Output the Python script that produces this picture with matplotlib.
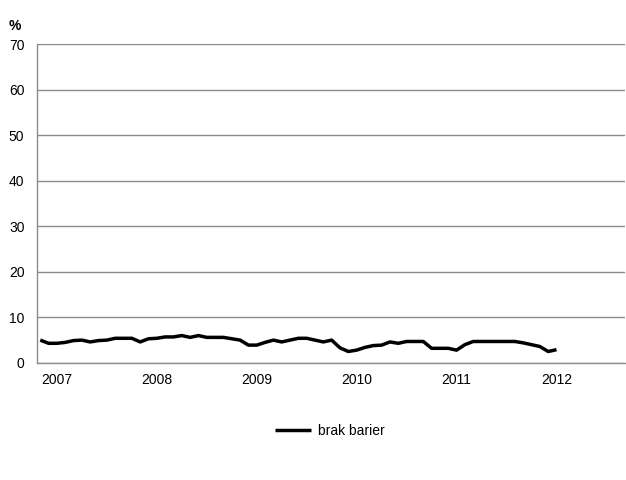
import matplotlib
matplotlib.use('Agg')
import matplotlib.pyplot as plt
import numpy as np

# monthly values, Nov 2006 - Jan 2012
brak_barier = [5.0, 4.3, 4.3, 4.5, 4.9, 5.0, 4.6, 4.9, 5.0, 5.4, 5.4, 5.4,
               4.6, 5.3, 5.4, 5.7, 5.7, 6.0, 5.6, 6.0, 5.6, 5.6, 5.6, 5.3,
               5.0, 3.9, 3.9, 4.5, 5.0, 4.6, 5.0, 5.4, 5.4, 5.0, 4.6, 5.0,
               3.3, 2.5, 2.8, 3.4, 3.8, 3.9, 4.6, 4.3, 4.7, 4.7, 4.7, 3.2,
               3.2, 3.2, 2.8, 4.0, 4.7, 4.7, 4.7, 4.7, 4.7, 4.7, 4.4, 4.0,
               3.6, 2.5, 2.9]
years = ['2007', '2008', '2009', '2010', '2011', '2012']
year_pos = [2, 14, 26, 38, 50, 62]

plt.rcParams['font.family'] = ['Liberation Sans', 'DejaVu Sans']
plt.rcParams['font.size'] = 10

fig = plt.figure(figsize=(6.26, 4.8), dpi=100)
ax = fig.add_axes([0.059, 0.244, 0.939, 0.664])

x = np.arange(len(brak_barier))
ax.plot(x, brak_barier, color='black', linewidth=2.5, label='brak barier',
        solid_joinstyle='round', solid_capstyle='butt')

ax.set_ylim(0, 70)
ax.set_yticks(range(0, 71, 10))
ax.set_xlim(-0.4, 70.2)
ax.set_xticks(year_pos)
ax.set_xticklabels(years)
ax.grid(axis='y', color='#8c8c8c', linewidth=1)
ax.set_axisbelow(True)

for s in ['top', 'right']:
    ax.spines[s].set_visible(False)
for s in ['left', 'bottom']:
    ax.spines[s].set_color('#8c8c8c')
    ax.spines[s].set_linewidth(1)
ax.tick_params(axis='y', length=0, pad=9)
ax.tick_params(axis='x', length=0, pad=7)

fig.text(0.013, 0.945, '%', fontsize=10, fontweight='bold', va='center')

fig.legend(loc='center', bbox_to_anchor=(0.527, 0.102), frameon=False,
           handlelength=2.6, handletextpad=0.5)

fig.savefig('out.png', dpi=100)
